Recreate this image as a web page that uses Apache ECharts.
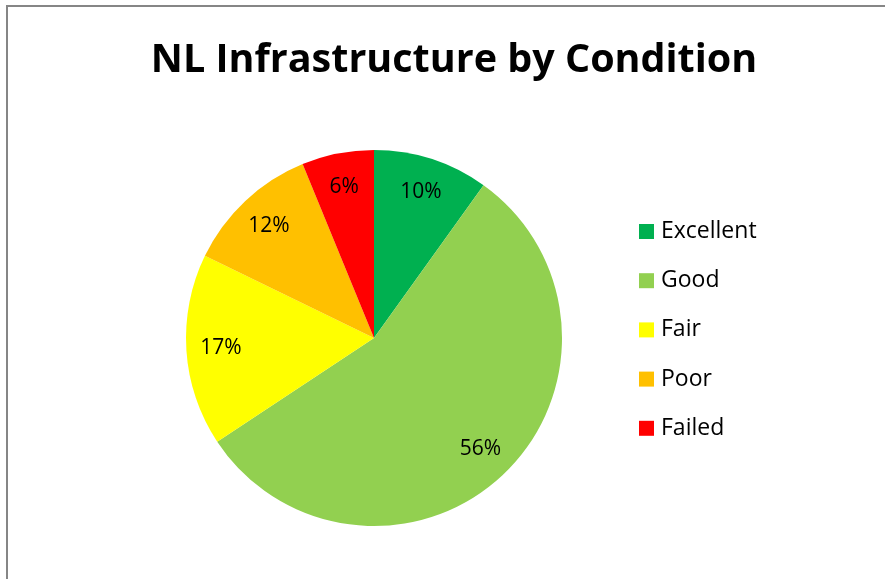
<!DOCTYPE html>
<html><head><meta charset="utf-8">
<script src="https://cdn.jsdelivr.net/npm/echarts@6/dist/echarts.min.js"></script>
<style>html,body{margin:0;padding:0;background:#fff}#c{width:885px;height:579px}</style>
</head><body><div id="c"></div>
<script>
const categories = ['Excellent','Good','Fair','Poor','Failed'];
const values = [9.9, 55.8, 16.5, 11.6, 6.2];
const colors = ['#00B050','#92D050','#FFFF00','#FFC000','#FF0000'];
const titleText = 'NL Infrastructure by Condition';

const chart = echarts.init(document.getElementById('c'));
const data = categories.map((n,i)=>({name:n, value:values[i], itemStyle:{color:colors[i]}}));
const total = values.reduce((a,b)=>a+b,0);
const font = 'Open Sans, Liberation Sans, sans-serif';
chart.setOption({
  animation:false,
  title:{text:titleText, left:449, top:36, textAlign:'center',
    textStyle:{fontFamily:font, fontWeight:'bold', fontSize:39.5, color:'#000'}},
  legend:{orient:'vertical', left:634, top:215, itemWidth:15, itemHeight:15, itemGap:26.2,
    icon:'rect', data:categories,
    textStyle:{fontFamily:font, fontSize:23, lineHeight:22, color:'#000', padding:[0,0,0,2]}},
  graphic:[{type:'rect', shape:{x:7, y:6, width:950, height:650},
    style:{fill:null, stroke:'#868686', lineWidth:2}, silent:true}],
  series:[
    {type:'pie', center:[374,338], radius:[0,188], startAngle:90, clockwise:true,
     label:{show:false}, labelLine:{show:false}, data:data, silent:true},
    {type:'pie', center:[374,338], radius:[113,188], startAngle:90, clockwise:true,
     silent:true, itemStyle:{color:'transparent'},
     label:{show:true, position:'inside', fontFamily:font, fontSize:21, color:'#000',
       formatter:p=>Math.round(p.value/total*100)+'%'},
     labelLine:{show:false},
     data:categories.map((n,i)=>({name:n, value:values[i], itemStyle:{color:'rgba(0,0,0,0)'}}))}
  ]
});
</script></body></html>
